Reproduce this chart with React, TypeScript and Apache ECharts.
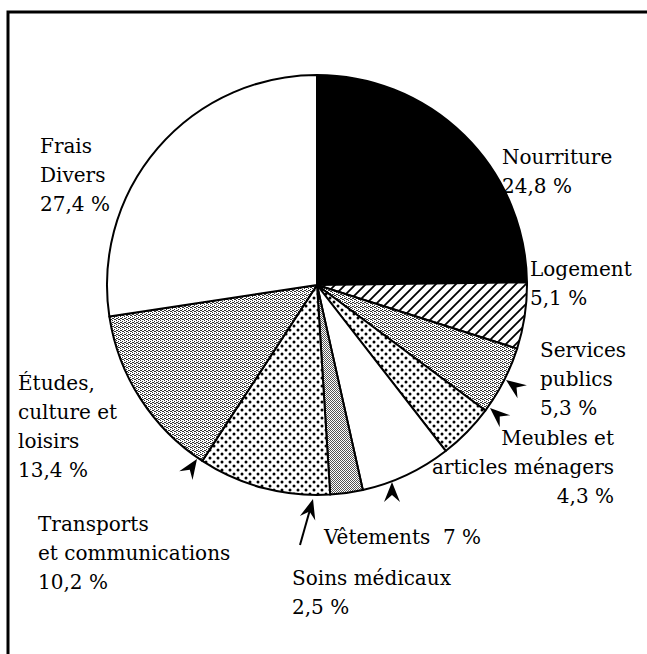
import React, { useEffect, useRef } from "react";
import * as echarts from "echarts";

// ---- data ----
const categories = [
  "Nourriture",
  "Logement",
  "Services publics",
  "Meubles et articles ménagers",
  "Vêtements",
  "Soins médicaux",
  "Transports et communications",
  "Études, culture et loisirs",
  "Frais Divers",
];
const values = [24.8, 5.1, 5.3, 4.3, 7, 2.5, 10.2, 13.4, 27.4];
const labelLines = [
  ["Nourriture"],
  ["Logement"],
  ["Services", "publics"],
  ["Meubles et", "articles ménagers"],
  ["Vêtements"],
  ["Soins médicaux"],
  ["Transports", "et communications"],
  ["Études,", "culture et", "loisirs"],
  ["Frais", "Divers"],
];
const fillKinds = ["black", "hatch", "fine", "dots", "white", "fine2", "dots", "fine", "white"];

// ---- layout (not data) ----
const CENTER: [number, number] = [317, 285];
const RADIUS = 210;
const FONT = '"DejaVu Serif", serif';
const FS = 20;
const LH = 29;
// [x, firstLineCenterY, align, inlineValue]
const labelPos: [number, number, string, boolean][] = [
  [502, 157, "left", false],
  [530, 269, "left", false],
  [540, 350, "left", false],
  [614, 438, "right", false],
  [324, 537, "left", true],
  [292, 578, "left", false],
  [38, 524, "left", false],
  [18, 383, "left", false],
  [40, 146, "left", false],
];
// arrow: tip x, tip y, tail x, tail y, extra line?
const arrows: [number, number, number, number, boolean][] = [
  [506, 380, 524, 393, false],
  [490, 408, 507, 423, false],
  [197, 459, 183, 480, false],
  [392, 482, 392, 502, false],
  [313, 499, 300, 545, true],
];

function fmt(v: number) {
  return String(v).replace(".", ",") + " %";
}

function makePattern(kind: string): any {
  if (kind === "black") return "#000";
  if (kind === "white") return "#fff";
  const c = document.createElement("canvas");
  let ctx: CanvasRenderingContext2D;
  if (kind === "hatch") {
    c.width = 10; c.height = 10;
    ctx = c.getContext("2d")!;
    ctx.fillStyle = "#fff"; ctx.fillRect(0, 0, 10, 10);
    ctx.strokeStyle = "#000"; ctx.lineWidth = 1.8;
    ctx.beginPath();
    ctx.moveTo(-1, 11); ctx.lineTo(11, -1);
    ctx.moveTo(-6, 6); ctx.lineTo(6, -6);
    ctx.moveTo(4, 16); ctx.lineTo(16, 4);
    ctx.stroke();
  } else if (kind === "dots") {
    c.width = 8; c.height = 8;
    ctx = c.getContext("2d")!;
    ctx.fillStyle = "#fff"; ctx.fillRect(0, 0, 8, 8);
    ctx.fillStyle = "#000";
    ctx.beginPath(); ctx.arc(2, 2, 1.5, 0, Math.PI * 2); ctx.fill();
    ctx.beginPath(); ctx.arc(6, 6, 1.5, 0, Math.PI * 2); ctx.fill();
  } else if (kind === "fine") {
    c.width = 4; c.height = 4;
    ctx = c.getContext("2d")!;
    ctx.fillStyle = "#fff"; ctx.fillRect(0, 0, 4, 4);
    ctx.fillStyle = "#333";
    [[0, 0], [2, 1], [1, 2], [3, 3], [2, 3], [0, 2]].forEach(([x, y]) => ctx.fillRect(x, y, 1, 1));
  } else {
    c.width = 2; c.height = 2;
    ctx = c.getContext("2d")!;
    ctx.fillStyle = "#fff"; ctx.fillRect(0, 0, 2, 2);
    ctx.fillStyle = "#555";
    [[0, 0], [1, 1]].forEach(([x, y]) => ctx.fillRect(x, y, 1, 1));
  }
  return { image: c, repeat: "repeat" };
}

function arrowPoly(tx: number, ty: number, bx: number, by: number) {
  const dx = bx - tx, dy = by - ty;
  const len = Math.hypot(dx, dy);
  const ux = dx / len, uy = dy / len;
  const px = -uy, py = ux;
  const L = 20, W = 8, N = 13;
  return [
    [tx, ty],
    [tx + ux * L + px * W, ty + uy * L + py * W],
    [tx + ux * N, ty + uy * N],
    [tx + ux * L - px * W, ty + uy * L - py * W],
  ];
}

export default function App() {
  const ref = useRef<HTMLDivElement>(null);
  useEffect(() => {
    if (!ref.current) return;
    const chart = echarts.init(ref.current, undefined, { renderer: "svg" });
    const graphics: any[] = [
      {
        type: "rect",
        shape: { x: 8, y: 12, width: 700, height: 700 },
        style: { fill: "none", stroke: "#000", lineWidth: 3 },
        silent: true,
      },
    ];
    labelLines.forEach((lines, i) => {
      const [x, y, align, inline] = labelPos[i];
      const text = inline
        ? lines[0] + "  " + fmt(values[i])
        : [...lines, fmt(values[i])].join("\n");
      graphics.push({
        type: "text",
        x,
        y: y - LH / 2,
        style: {
          text,
          fill: "#000",
          fontSize: FS,
          fontFamily: FONT,
          lineHeight: LH,
          textAlign: align,
          textVerticalAlign: "top",
        },
      });
    });
    arrows.forEach(([tx, ty, bx, by, line]) => {
      graphics.push({
        type: "polygon",
        shape: { points: arrowPoly(tx, ty, bx, by) },
        style: { fill: "#000" },
      });
      if (line) {
        graphics.push({
          type: "line",
          shape: { x1: tx + (bx - tx) * 0.2, y1: ty + (by - ty) * 0.2, x2: bx, y2: by },
          style: { stroke: "#000", lineWidth: 2 },
        });
      }
    });
    chart.setOption({
      animation: false,
      backgroundColor: "#fff",
      series: [
        {
          type: "pie",
          center: CENTER,
          radius: RADIUS,
          startAngle: 90,
          clockwise: true,
          label: { show: false },
          labelLine: { show: false },
          emphasis: { disabled: true },
          itemStyle: { borderColor: "#000", borderWidth: 2 },
          data: categories.map((name, i) => ({
            name,
            value: values[i],
            itemStyle: { color: makePattern(fillKinds[i]) },
          })),
        },
      ],
      graphic: graphics,
    });
    return () => chart.dispose();
  }, []);
  return <div ref={ref} style={{ width: 647, height: 654, position: "absolute", left: 0, top: 0 }} />;
}
